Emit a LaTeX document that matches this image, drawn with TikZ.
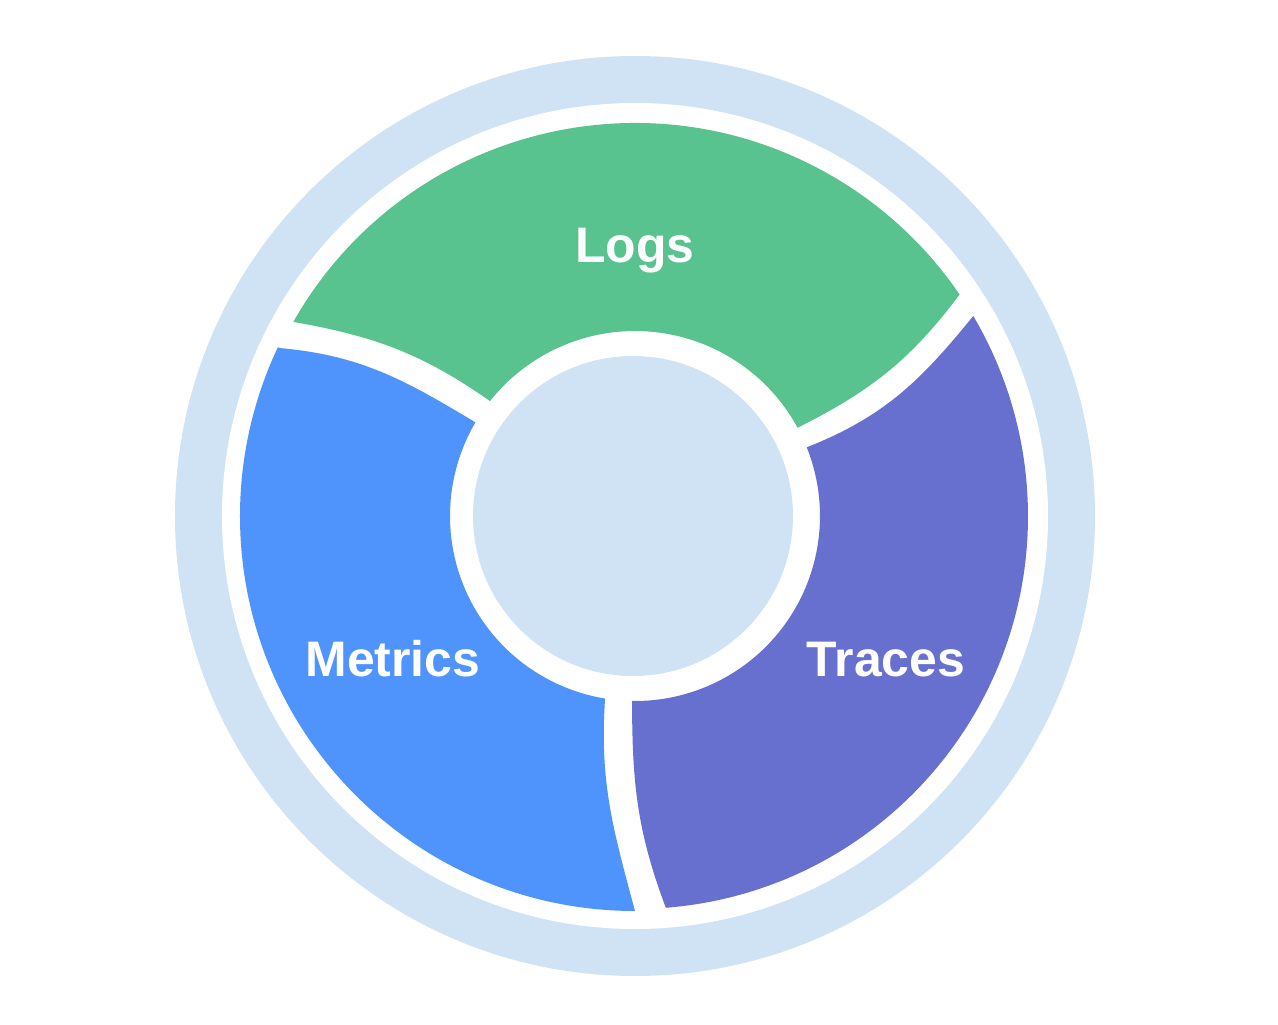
\documentclass[tikz,border=0pt]{standalone}
\usepackage{fontspec}
\setmainfont{Liberation Sans}
\begin{document}
\begin{tikzpicture}
  \definecolor{ringblue}{RGB}{207,227,245}
  \definecolor{logsgreen}{RGB}{88,195,142}
  \definecolor{metricsblue}{RGB}{79,148,252}
  \definecolor{tracespurple}{RGB}{104,112,207}
  \tikzset{
    seglabel/.style={text=white, font=\fontsize{14.2}{16}\selectfont\bfseries, anchor=base, inner sep=0pt}
  }
  \useasboundingbox[fill=white] (-6.35,-5.08) rectangle (6.43,5.16);

  % outer halo ring
  \fill[ringblue] (0,0) circle[radius=4.60];
  \fill[white] (0,0) circle[radius=4.13];

  % Logs segment
  \fill[logsgreen] (150.4:3.93) arc[start angle=150.4, end angle=34.3, radius=3.93]
    to[out=233, in=26.6] (28.5:1.85)
    arc[start angle=28.5, end angle=141.6, radius=1.85]
    to[out=145, in=-10] cycle;

  % Metrics segment
  \fill[metricsblue] (154.7:3.93) to[out=-5, in=149] (149.6:1.85)
    arc[start angle=149.6, end angle=260.7, radius=1.85]
    to[out=266, in=105] (270:3.95)
    arc[start angle=270, end angle=154.7, radius=3.95] -- cycle;

  % Traces segment
  \fill[tracespurple] (30.6:3.93) to[out=231, in=21.5] (21.8:1.85)
    arc[start angle=21.8, end angle=-90.9, radius=1.85]
    to[out=270, in=110.6] (-85.5:3.93)
    arc[start angle=-85.5, end angle=30.6, radius=3.93] -- cycle;

  % central disc
  \fill[ringblue] (-0.02,0) circle[radius=1.60];

  \node[seglabel] (logs) at (0,2.54) {Logs};
  \node[seglabel] (metrics) at (-2.42,-1.60) {Metrics};
  \node[seglabel] (traces) at (2.51,-1.60) {Traces};
\end{tikzpicture}
\end{document}
